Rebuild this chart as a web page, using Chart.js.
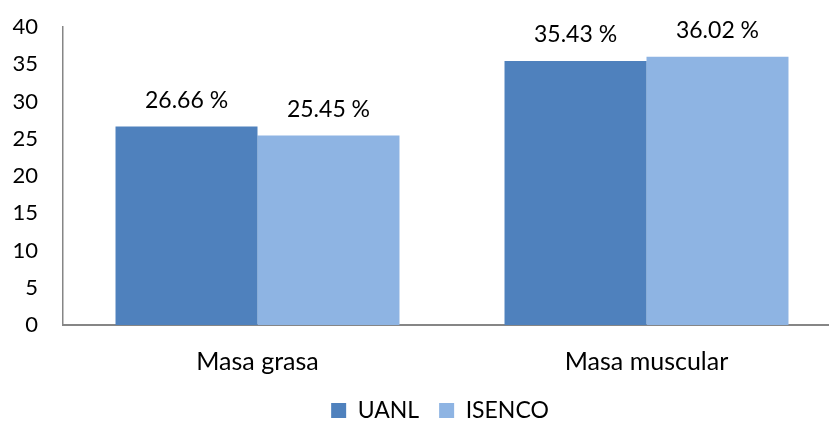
<!DOCTYPE html>
<html>
<head>
<meta charset="utf-8">
<script src="https://cdn.jsdelivr.net/npm/chart.js@4/dist/chart.umd.min.js"></script>
<style>
  html, body { margin: 0; padding: 0; background: #ffffff; overflow: hidden; }
  #wrap { width: 829px; height: 423px; position: relative; overflow: hidden; }
  #c { position: absolute; left: 0; top: 0; }
</style>
</head>
<body>
<div id="wrap"><canvas id="c" width="841" height="423"></canvas></div>
<script>
const categories = ['Masa grasa', 'Masa muscular'];
const seriesNames = ['UANL', 'ISENCO'];
const uanlValues = [26.66, 35.43];
const isencoValues = [25.45, 36.02];
const yTicks = [0, 5, 10, 15, 20, 25, 30, 35, 40];

const FONT = 'Lato, "Noto Sans", sans-serif';
const AXIS_COLOR = '#868686';

const dataLabels = {
  id: 'dataLabels',
  afterDatasetsDraw(chart) {
    const ctx = chart.ctx;
    ctx.save();
    ctx.font = '23px ' + FONT;
    ctx.fillStyle = '#000000';
    ctx.textAlign = 'center';
    ctx.textBaseline = 'middle';
    chart.data.datasets.forEach((ds, di) => {
      const meta = chart.getDatasetMeta(di);
      meta.data.forEach((bar, i) => {
        ctx.fillText(ds.data[i].toFixed(2) + ' %', bar.x, bar.y - 26);
      });
    });
    ctx.restore();
  }
};

const LEGEND_H = 36;
const legendShift = {
  id: 'legendShift',
  beforeLayout(chart) {
    const lg = chart.legend;
    if (lg && !lg._patched) {
      const orig = lg.fit;
      lg.fit = function () { orig.call(this); this.height = LEGEND_H; };
      lg._patched = true;
    }
  },
  afterLayout(chart) {
    const lg = chart.legend;
    if (!lg) return;
    const dx = 440 - (lg.left + lg.right) / 2;
    lg.left += dx; lg.right += dx;
    lg.top -= 8;
    lg.bottom = chart.height;
  }
};

new Chart(document.getElementById('c'), {
  type: 'bar',
  data: {
    labels: categories,
    datasets: [
      { label: seriesNames[0], data: uanlValues, backgroundColor: '#4F81BD', borderWidth: 0 },
      { label: seriesNames[1], data: isencoValues, backgroundColor: '#8EB4E3', borderWidth: 0 }
    ]
  },
  options: {
    responsive: false,
    animation: false,
    devicePixelRatio: 1,
    layout: { padding: { top: 27, right: 0, left: 0, bottom: 0 } },
    datasets: { bar: { categoryPercentage: 0.73, barPercentage: 1.0 } },
    scales: {
      x: {
        grid: { display: false },
        border: { display: true, color: AXIS_COLOR, width: 2 },
        ticks: { color: '#000000', font: { family: FONT, size: 25 }, padding: 14 },
        afterFit(s) { s.height = 98 - LEGEND_H; s.paddingLeft = 0; s.paddingRight = 0; }
      },
      y: {
        min: 0, max: 40,
        afterBuildTicks(s) { s.ticks = yTicks.map(v => ({ value: v })); },
        grid: { display: false },
        border: { display: true, color: AXIS_COLOR, width: 1.5 },
        ticks: { color: '#000000', font: { family: FONT, size: 22 }, padding: 17 },
        afterFit(s) { s.width = 63; s.paddingTop = 0; s.paddingBottom = 0; }
      }
    },
    plugins: {
      legend: {
        position: 'bottom',
        labels: {
          color: '#000000',
          font: { family: FONT, size: 23 },
          boxWidth: 15, boxHeight: 15,
          padding: 20
        }
      },
      tooltip: { enabled: false }
    }
  },
  plugins: [dataLabels, legendShift]
});
</script>
</body>
</html>
